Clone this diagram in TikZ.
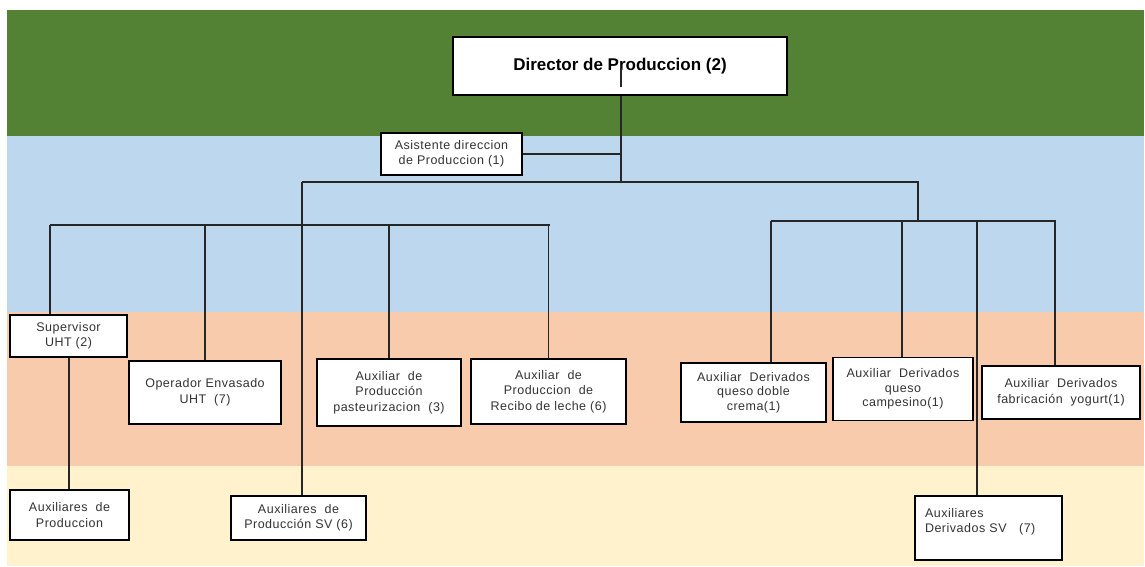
\documentclass[tikz,border=0pt]{standalone}
\usepackage{fontspec}
\setmainfont{Liberation Sans}
\definecolor{franjaverde}{HTML}{548235}
\definecolor{franjaazul}{HTML}{BDD7EE}
\definecolor{franjanaranja}{HTML}{F8CBAD}
\definecolor{franjaamarilla}{HTML}{FFF2CC}
\tikzset{
  puesto/.style={draw=black, line width=1.4pt, fill=white, align=center,
    text=black!80, inner sep=2pt,
    font=\fontsize{12.5}{15.5}\selectfont\addfontfeature{LetterSpace=4}},
  jefe/.style={draw=black, line width=1.4pt, fill=white,
    font=\fontsize{17}{20}\selectfont\bfseries},
  enlace/.style={line width=1.3pt, draw=black!85},
}
\begin{document}
\begin{tikzpicture}[x=1pt, y=-1pt]
\useasboundingbox (0,0) rectangle (1145,567);
% franjas de nivel
\fill[franjaverde] (7,10) rectangle (1144,136);
\fill[franjaazul] (7,136) rectangle (1144,312);
\fill[franjanaranja] (7,312) rectangle (1144,466);
\fill[franjaamarilla] (7,466) rectangle (1144,566);

\node[jefe, minimum width=334, minimum height=58] (dir) at (620,66)
    {Director de Produccion (2)};
\node[puesto, minimum width=141, minimum height=42] (asis) at (451.5,154)
    {Asistente direccion\\de Produccion (1)};
% rama izquierda
\node[puesto, minimum width=117, minimum height=42] (sup) at (68.5,336)
    {Supervisor\\UHT (2)};
\node[puesto, minimum width=119, minimum height=50] (auxp) at (69.5,515)
    {Auxiliares~ de\\Produccion};
\node[puesto, minimum width=152, minimum height=63] (oper) at (205,392.5)
    {Operador Envasado\\UHT~ (7)};
\node[puesto, minimum width=135, minimum height=44] (auxsv) at (298.5,518)
    {Auxiliares~ de\\Producción SV (6)};
\node[puesto, minimum width=144, minimum height=67] (past) at (389,392.5)
    {Auxiliar~ de\\Producción\\pasteurizacion~ (3)};
\node[puesto, minimum width=155, minimum height=65] (recibo) at (548.5,391.5)
    {Auxiliar~ de\\Produccion~ de\\Recibo de leche (6)};
% rama derecha
\node[puesto, minimum width=145, minimum height=59, font=\fontsize{12.5}{14.5}\selectfont\addfontfeature{LetterSpace=4}]
    (doble) at (753.5,392.5) {Auxiliar~ Derivados\\queso doble\\crema(1)};
\node[puesto, minimum width=140, minimum height=63, font=\fontsize{12.5}{14.5}\selectfont\addfontfeature{LetterSpace=4}]
    (camp) at (903,389) {Auxiliar~ Derivados\\queso\\campesino(1)};
\node[puesto, minimum width=158, minimum height=53] (yog) at (1061,392.5)
    {Auxiliar~ Derivados\\fabricación~ yogurt(1)};
\node[puesto, minimum width=147, minimum height=64, align=left, text width=127,
    inner xsep=10pt] (dersv) at (988.5,528)
    {Auxiliares\\Derivados SV~~ (7)\\~};

% conectores
\coordinate (marca) at (621,68);
\coordinate (tronco) at (621,182);
\coordinate (izq) at (302,182);
\coordinate (der) at (918,182);
\coordinate (busizq) at (50,225);
\coordinate (busizqfin) at (550,225);
\coordinate (busder) at (918,221);
\coordinate (busderini) at (771,221);
\coordinate (busderfin) at (1056,221);
\draw[enlace] (marca) -- ++(0,19);
\draw[enlace] (dir.south -| tronco) -- (tronco);
\draw[enlace] (asis.east) -- (asis.east -| tronco);
\draw[enlace] (izq) -- (der) -- (busder);
\draw[enlace] (izq) -- (auxsv.north -| izq);
\draw[enlace] (busizq) -- (busizqfin);
\draw[enlace] (busizq) -- (sup.north -| busizq);
\foreach \n in {oper,past,recibo}
  \draw[enlace] (\n.north |- busizq) -- (\n.north);
\draw[enlace] (auxp.north -| 69,0) -- (sup.south -| 69,0);
\draw[enlace] (busderini) -- (busderfin);
\foreach \n/\x in {doble/771, camp/902, dersv/977, yog/1055} {
  \coordinate (pie) at (\x,221);
  \draw[enlace] (pie) -- (pie |- \n.north);
}
\end{tikzpicture}
\end{document}
